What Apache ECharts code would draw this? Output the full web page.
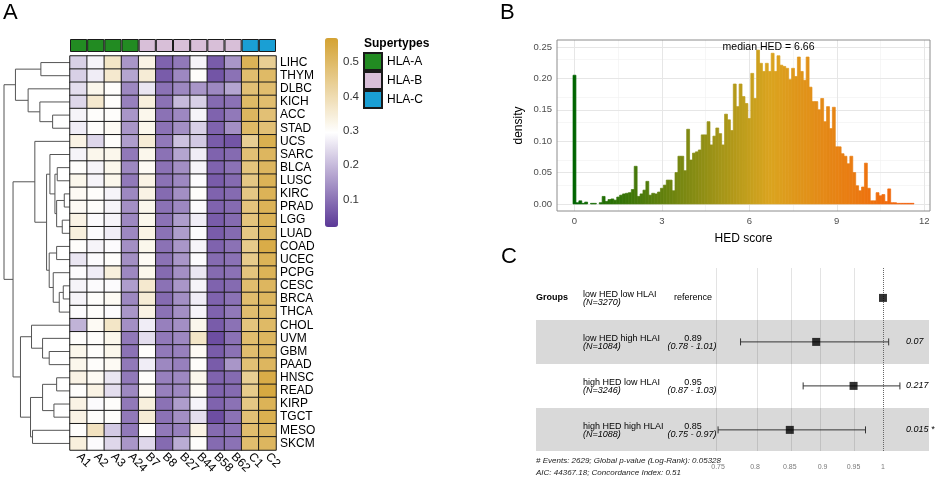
<!DOCTYPE html>
<html>
<head>
<meta charset="utf-8">
<script src="https://cdn.jsdelivr.net/npm/echarts@6/dist/echarts.min.js"></script>
<style>
html,body{margin:0;padding:0;background:#fff;}
#c{width:939px;height:479px;}
</style>
</head>
<body>
<div id="c"></div>
<script>
// ---------------- DATA ----------------
const cancers = ['LIHC','THYM','DLBC','KICH','ACC','STAD','UCS','SARC','BLCA','LUSC','KIRC','PRAD','LGG','LUAD','COAD','UCEC','PCPG','CESC','BRCA','THCA','CHOL','UVM','GBM','PAAD','HNSC','READ','KIRP','TGCT','MESO','SKCM'];
const alleles = ['A1','A2','A3','A24','B7','B8','B27','B44','B58','B62','C1','C2'];
const alleleSupertype = ['HLA-A','HLA-A','HLA-A','HLA-A','HLA-B','HLA-B','HLA-B','HLA-B','HLA-B','HLA-B','HLA-C','HLA-C'];
const supertypes = ['HLA-A','HLA-B','HLA-C'];
const colorbarTicks = [0.1,0.2,0.3,0.4,0.5];

// heatmap values per allele (rows in cancer order)
const valA1  = [0.23,0.23,0.25,0.24,0.28,0.27,0.33,0.28,0.30,0.32,0.31,0.31,0.33,0.34,0.30,0.26,0.29,0.28,0.28,0.29,0.19,0.30,0.32,0.32,0.33,0.30,0.33,0.33,0.30,0.34];
const valA2  = [0.28,0.27,0.32,0.36,0.30,0.30,0.24,0.32,0.28,0.28,0.30,0.30,0.29,0.29,0.28,0.29,0.27,0.29,0.30,0.30,0.31,0.30,0.30,0.30,0.31,0.33,0.29,0.30,0.38,0.29];
const valA3  = [0.37,0.36,0.30,0.30,0.30,0.31,0.30,0.32,0.32,0.32,0.28,0.28,0.28,0.27,0.29,0.30,0.34,0.29,0.31,0.29,0.37,0.32,0.32,0.31,0.26,0.25,0.30,0.30,0.22,0.24];
const valA24 = [0.15,0.17,0.13,0.12,0.15,0.15,0.16,0.11,0.13,0.11,0.13,0.14,0.13,0.13,0.14,0.14,0.13,0.16,0.13,0.15,0.14,0.11,0.10,0.11,0.11,0.13,0.11,0.11,0.11,0.15];
const valB7  = [0.33,0.35,0.26,0.34,0.32,0.32,0.35,0.32,0.31,0.33,0.33,0.32,0.32,0.33,0.32,0.31,0.32,0.36,0.35,0.33,0.27,0.25,0.30,0.27,0.30,0.31,0.34,0.35,0.30,0.24];
const valB8  = [0.08,0.07,0.10,0.10,0.10,0.10,0.11,0.10,0.10,0.10,0.09,0.10,0.10,0.10,0.10,0.10,0.09,0.10,0.09,0.10,0.12,0.11,0.11,0.13,0.12,0.12,0.10,0.10,0.11,0.09];
const valB27 = [0.11,0.13,0.13,0.20,0.13,0.14,0.21,0.17,0.14,0.13,0.14,0.13,0.16,0.16,0.15,0.15,0.14,0.15,0.14,0.14,0.14,0.13,0.12,0.12,0.13,0.13,0.16,0.14,0.12,0.18];
const valB44 = [0.28,0.30,0.15,0.23,0.28,0.23,0.22,0.27,0.28,0.29,0.30,0.29,0.27,0.29,0.28,0.29,0.26,0.28,0.27,0.28,0.32,0.37,0.31,0.30,0.32,0.31,0.28,0.25,0.33,0.30];
const valB58 = [0.07,0.06,0.13,0.09,0.08,0.08,0.07,0.08,0.08,0.07,0.08,0.08,0.07,0.07,0.08,0.09,0.09,0.08,0.08,0.08,0.07,0.05,0.07,0.07,0.08,0.08,0.08,0.05,0.09,0.09];
const valB62 = [0.15,0.10,0.17,0.10,0.11,0.14,0.06,0.09,0.10,0.09,0.09,0.09,0.09,0.09,0.10,0.10,0.10,0.09,0.10,0.11,0.10,0.10,0.10,0.15,0.09,0.09,0.10,0.10,0.10,0.10];
const valC1  = [0.52,0.49,0.48,0.50,0.51,0.50,0.44,0.48,0.47,0.46,0.46,0.47,0.47,0.46,0.45,0.45,0.47,0.49,0.49,0.49,0.47,0.49,0.49,0.48,0.44,0.45,0.46,0.48,0.49,0.49];
const valC2  = [0.44,0.50,0.49,0.49,0.48,0.48,0.53,0.51,0.51,0.52,0.52,0.52,0.52,0.51,0.54,0.52,0.52,0.51,0.51,0.50,0.50,0.51,0.51,0.51,0.54,0.55,0.52,0.53,0.51,0.51];
const alleleColumns = [valA1,valA2,valA3,valA24,valB7,valB8,valB27,valB44,valB58,valB62,valC1,valC2];

// dendrogram merges: [child, child, height]; numbers refer to earlier merges
const dendroMerges = [
  ['LIHC','THYM',29.0],  //0
  ['ACC','STAD',17.3],   //1
  ['KICH',1,30.0],       //2
  ['DLBC',2,41.7],       //3
  [0,3,54.3],            //4
  ['BLCA','LUSC',12.7],  //5
  ['KIRC','PRAD',5.7],   //6
  ['LGG','LUAD',7.7],    //7
  [6,7,13.3],            //8
  [5,8,15.0],            //9
  ['SARC',9,20.0],       //10
  ['COAD','UCEC',13.3],  //11
  ['CESC','BRCA',6.7],   //12
  [12,'THCA',10.7],      //13
  ['PCPG',13,16.7],      //14
  [11,14,20.7],          //15
  [10,15,23.3],          //16
  ['UCS',16,35.0],       //17
  ['GBM','PAAD',20.7],   //18
  ['UVM',18,27.3],       //19
  ['CHOL',19,38.3],      //20
  ['HNSC','READ',13.3],  //21
  ['KIRP','TGCT',16.0],  //22
  [21,22,27.3],          //23
  ['MESO','SKCM',37.3],  //24
  [23,24,39.3],          //25
  [20,25,49.3],          //26
  [17,26,56.7],          //27
  [4,27,65.7]            //28
];

// HED score histogram (bin width 0.1, bins centred at 0, 0.1, 0.2 ...)
const hedBinWidth = 0.1;
const hedDensity = [
  0.205,0.002,0.005,0.001,0.003,0.000,0.001,0.001,0.000,0.002,
  0.012,0.004,0.007,0.008,0.006,0.011,0.014,0.016,0.017,0.018,
  0.023,0.060,0.012,0.016,0.022,0.036,0.014,0.017,0.016,0.019,
  0.025,0.030,0.038,0.038,0.021,0.050,0.076,0.076,0.053,0.119,
  0.070,0.081,0.083,0.086,0.110,0.110,0.131,0.094,0.108,0.121,
  0.112,0.094,0.143,0.134,0.117,0.191,0.155,0.191,0.171,0.160,
  0.136,0.208,0.168,0.245,0.224,0.211,0.224,0.211,0.240,0.211,
  0.236,0.221,0.219,0.216,0.198,0.216,0.203,0.234,0.211,0.197,
  0.234,0.186,0.163,0.163,0.150,0.168,0.131,0.155,0.120,0.154,
  0.091,0.091,0.080,0.076,0.064,0.076,0.050,0.029,0.021,0.027,
  0.065,0.025,0.005,0.005,0.018,0.013,0.015,0.004,0.024,0.002,
  0.002,0.001,0.001,0.001,0.001,0.001,0.001
];
const hedXTicks = [0,3,6,9,12];
const hedXMinor = [1.5,4.5,7.5,10.5];
const hedYTicks = [0,0.05,0.10,0.15,0.20,0.25];
const hedYMinor = [0.025,0.075,0.125,0.175,0.225];
const hedMedian = 6.66;

// forest plot
const groupNames = ['low HED low HLAI','low HED high HLAI','high HED low HLAI','high HED high HLAI'];
const groupN = [3270,1084,3246,1088];
const hrEst = [1,0.89,0.95,0.85];
const hrLow = [null,0.78,0.87,0.75];
const hrHigh = [null,1.01,1.03,0.97];
const pValues = [null,'0.07','0.217','0.015 *'];
const forestTicks = [0.75,0.8,0.85,0.9,0.95,1];
const footerLines = ['# Events: 2629; Global p-value (Log-Rank): 0.05328','AIC: 44367.18; Concordance Index: 0.51'];

// ---------------- BUILD ----------------
const FONT = 'Liberation Sans, Arial, Helvetica, sans-serif';

const heatData = [];
alleleColumns.forEach((col, ci) => col.forEach((v, ri) => heatData.push([ci, ri, v])));

const dendroSegs = [];
(function(){
  const info = [];
  const node = n => typeof n === 'string' ? {y: cancers.indexOf(n), h: 0} : info[n];
  dendroMerges.forEach((m, i) => {
    const a = node(m[0]), b = node(m[1]), h = m[2];
    dendroSegs.push([a.h, a.y, h, b.y, b.h]);
    info[i] = {y: (a.y + b.y) / 2, h: h};
  });
})();

const hedData = hedDensity.map((d, i) => [i * hedBinWidth, d]);

const FY_MIN = 0.32, FY_MAX = 4.48;
const lnTicks = forestTicks.map(t => Math.log(t));
const forestBars = [];
hrEst.forEach((h, i) => { if (hrLow[i] != null) forestBars.push([Math.log(hrLow[i]), Math.log(hrHigh[i]), i + 1]); });
const forestPts = hrEst.map((h, i) => [Math.log(h), i + 1]);
const bands = [];
groupNames.forEach((g, i) => { if (i % 2 === 1) bands.push([{yAxis: i + 0.5}, {yAxis: Math.min(i + 1.5, FY_MAX)}]); });

const supertypeColors = {'HLA-A':'#228B22','HLA-B':'#D8BFD8','HLA-C':'#1A9FD4'};
const annotSeries = supertypes.map(st => ({
  type:'bar', name: st, xAxisIndex:1, yAxisIndex:1,
  data: alleleSupertype.map(s => s === st ? 1 : '-'),
  barWidth:'100%', barGap:'-100%', barCategoryGap:0,
  itemStyle:{color: supertypeColors[st], borderColor:'#1a1a1a', borderWidth:1},
  silent:true
}));

const hiddenAxis = (type, grid, extra) => Object.assign({type, gridIndex:grid, show:false}, extra || {});

const option = {
  animation:false,
  textStyle:{fontFamily:FONT},
  grid:[
    {left:4, top:56, width:66, height:394},            // 0 dendrogram
    {left:70, top:39, width:206, height:13},           // 1 annotation
    {left:70, top:56, width:206, height:394},          // 2 heatmap
    {left:325, top:38, width:13, height:189},          // 3 colorbar labels
    {left:557, top:40, width:373, height:171, show:true, borderColor:'#8c8c8c', borderWidth:1, backgroundColor:'transparent', z:20}, // 4 histogram
    {left:536, top:268, width:393, height:183}         // 5 forest
  ],
  xAxis:[
    hiddenAxis('value',0,{min:0, max:65.7, inverse:true}),
    hiddenAxis('category',1,{data:alleles}),
    {type:'category', gridIndex:2, data:alleles, axisLine:{show:false}, axisTick:{show:false},
     axisLabel:{interval:0, rotate:-45, fontSize:12, color:'#000', margin:5}},
    hiddenAxis('value',3,{min:0, max:1}),
    {type:'value', gridIndex:4, min:-0.6, max:12.2, axisLine:{show:false},
     axisTick:{show:true, customValues:hedXTicks, length:3, lineStyle:{color:'#333'}},
     axisLabel:{customValues:hedXTicks, fontSize:9.5, color:'#4d4d4d', margin:5},
     splitLine:{show:false},
     name:'HED score', nameLocation:'middle', nameGap:22, nameTextStyle:{fontSize:12, color:'#000'}},
    {type:'value', gridIndex:5, min:-0.6053, max:0.0803, axisLine:{show:false}, axisTick:{show:false},
     axisLabel:{customValues:lnTicks, fontSize:7, color:'#7a7a7a', margin:13,
       formatter: v => String(+Math.exp(v).toFixed(2))},
     splitLine:{show:false}}
  ],
  yAxis:[
    hiddenAxis('value',0,{min:-0.5, max:29.5, inverse:true}),
    hiddenAxis('value',1,{min:0, max:1}),
    {type:'category', gridIndex:2, data:cancers, inverse:true, position:'right',
     axisLine:{show:false}, axisTick:{show:false},
     axisLabel:{interval:0, fontSize:12, color:'#000', margin:4}},
    {type:'value', gridIndex:3, min:0.02, max:0.57, position:'right',
     axisLine:{show:false}, axisTick:{show:false}, splitLine:{show:false},
     axisLabel:{customValues:colorbarTicks, fontSize:11.5, color:'#333', margin:5, formatter: v => v.toFixed(1)}},
    {type:'value', gridIndex:4, min:-0.0112, max:0.2611, axisLine:{show:false},
     axisTick:{show:true, customValues:hedYTicks, length:3, lineStyle:{color:'#333'}},
     axisLabel:{customValues:hedYTicks, fontSize:9.5, color:'#4d4d4d', margin:5, formatter: v => v.toFixed(2)},
     splitLine:{show:false},
     name:'density', nameLocation:'middle', nameGap:32, nameRotate:90, nameTextStyle:{fontSize:12, color:'#000'}},
    hiddenAxis('value',5,{min:FY_MIN, max:FY_MAX, inverse:true})
  ],
  visualMap:[
    {type:'continuous', seriesIndex:4, min:0.02, max:0.57, left:325, top:38, itemWidth:13, itemHeight:189,
     padding:0, calculable:false, hoverLink:false, text:null, showLabel:false,
     inRange:{color:['#5B3897','#FFFFFF','#D4A232']}},
    {type:'continuous', seriesIndex:6, dimension:0, min:0, max:2*hedMedian, show:false,
     inRange:{color:['#006400','#DAA520','#FF4500']}}
  ],
  legend:{data:supertypes, orient:'vertical', left:363, top:52, padding:0, itemGap:0,
    itemWidth:18, itemHeight:17, icon:'rect', selectedMode:false,
    textStyle:{fontSize:12, color:'#000', fontFamily:FONT}},
  series:[
    { // 0 dendrogram
      type:'custom', xAxisIndex:0, yAxisIndex:0, data:dendroSegs, silent:true,
      encode:{x:[0,2,4], y:[1,3]},
      renderItem:(p, api) => {
        const pts = [[api.value(0),api.value(1)],[api.value(2),api.value(1)],[api.value(2),api.value(3)],[api.value(4),api.value(3)]].map(c => api.coord(c));
        return {type:'polyline', shape:{points:pts}, style:{stroke:'#555', lineWidth:1, fill:null}};
      }
    },
    ...annotSeries, // 1-3
    { // 4 heatmap
      type:'heatmap', xAxisIndex:2, yAxisIndex:2, data:heatData, silent:true,
      itemStyle:{borderColor:'#1a1a1a', borderWidth:1}
    },
    { // 5 histogram grid lines
      type:'line', xAxisIndex:4, yAxisIndex:4, data:[], z:1, silent:true,
      markLine:{silent:true, z:1, symbol:['none','none'], label:{show:false},
        data:[
          ...hedXMinor.map(v => ({xAxis:v, lineStyle:{color:'#F2F2F2', width:0.7, type:'solid'}})),
          ...hedYMinor.map(v => ({yAxis:v, lineStyle:{color:'#F2F2F2', width:0.7, type:'solid'}})),
          ...hedXTicks.map(v => ({xAxis:v, lineStyle:{color:'#E6E6E6', width:1, type:'solid'}})),
          ...hedYTicks.map(v => ({yAxis:v, lineStyle:{color:'#E6E6E6', width:1, type:'solid'}}))
        ]}
    },
    { // 6 histogram bars
      type:'custom', xAxisIndex:4, yAxisIndex:4, data:hedData, z:10, silent:true,
      encode:{x:0, y:1},
      renderItem:(p, api) => {
        const x = api.value(0), y = api.value(1);
        const a = api.coord([x - hedBinWidth/2, y]);
        const b = api.coord([x + hedBinWidth/2, 0]);
        const col = api.visual('color');
        return {type:'rect', shape:{x:a[0], y:a[1], width:b[0]-a[0], height:b[1]-a[1]},
          style:{fill:col, stroke: y > 0 ? col : null, lineWidth:0.7}};
      }
    },
    { // 7 forest grid lines
      type:'line', xAxisIndex:5, yAxisIndex:5, data:[], z:1, silent:true,
      markLine:{silent:true, z:1, symbol:['none','none'], label:{show:false},
        data: lnTicks.filter((v, i) => forestTicks[i] !== 1).map(v => ({xAxis:v, lineStyle:{color:'#E3E3E3', width:1, type:'solid'}}))}
    },
    { // 8 bands
      type:'line', xAxisIndex:5, yAxisIndex:5, data:[], z:2, silent:true,
      markArea:{silent:true, z:2, itemStyle:{color:'rgba(0,0,0,0.15)'}, data:bands}
    },
    { // 9 reference line at HR = 1
      type:'line', xAxisIndex:5, yAxisIndex:5, data:[], z:3, silent:true,
      markLine:{silent:true, z:3, symbol:['none','none'], label:{show:false},
        data: lnTicks.filter((v, i) => forestTicks[i] === 1).map(v => ({xAxis:v, lineStyle:{color:'#666', width:1, type:'dotted'}}))}
    },
    { // 10 error bars
      type:'custom', xAxisIndex:5, yAxisIndex:5, data:forestBars, z:10, silent:true,
      encode:{x:[0,1], y:2},
      renderItem:(p, api) => {
        const a = api.coord([api.value(0), api.value(2)]);
        const b = api.coord([api.value(1), api.value(2)]);
        const c = 3.5, st = {stroke:'#333', lineWidth:1};
        return {type:'group', children:[
          {type:'line', shape:{x1:a[0], y1:a[1], x2:b[0], y2:b[1]}, style:st},
          {type:'line', shape:{x1:a[0], y1:a[1]-c, x2:a[0], y2:a[1]+c}, style:st},
          {type:'line', shape:{x1:b[0], y1:b[1]-c, x2:b[0], y2:b[1]+c}, style:st}
        ]};
      }
    },
    { // 11 points
      type:'scatter', xAxisIndex:5, yAxisIndex:5, data:forestPts, z:12, silent:true,
      symbol:'rect', symbolSize:8, itemStyle:{color:'#000'}
    }
  ]
};

const chart = echarts.init(document.getElementById('c'));
chart.setOption(option);

// ---------------- TEXT ----------------
function txt(x, y, text, o) {
  o = o || {};
  const font = (o.style || 'normal') + ' ' + (o.weight || 'normal') + ' ' + (o.size || 9) + 'px ' + FONT;
  return {type:'text', x:x, y:y, silent:true, z:30,
    style:{text:text, font:font, fill:o.color || '#000',
      align:o.align || 'left', textAlign:o.align || 'left',
      verticalAlign:'middle', textVerticalAlign:'middle'}};
}
const gfx = [];
gfx.push(txt(3, 13, 'A', {size:22}));
gfx.push(txt(500, 13, 'B', {size:22}));
gfx.push(txt(501, 257, 'C', {size:22}));
gfx.push(txt(364, 44, 'Supertypes', {size:12, weight:'bold'}));
const medPix = chart.convertToPixel({gridIndex:4}, [hedMedian, 0.245]);
gfx.push(txt(medPix[0], 47, 'median HED = ' + hedMedian.toFixed(2), {size:10.5, align:'center'}));

const rowY = r => chart.convertToPixel({gridIndex:5}, [0, r])[1];
const colName = 583, colHR = 693, colP = 906;
gfx.push(txt(536, rowY(1), 'Groups', {size:9, weight:'bold'}));
groupNames.forEach((g, i) => {
  const y = rowY(i + 1);
  gfx.push(txt(colName, y - 3.5, g, {size:9}));
  gfx.push(txt(colName, y + 4.5, '(N=' + groupN[i] + ')', {size:9, style:'italic'}));
  if (hrLow[i] == null) {
    gfx.push(txt(colHR, y, 'reference', {size:9, align:'center'}));
  } else {
    gfx.push(txt(colHR, y - 3.5, hrEst[i].toFixed(2), {size:9, align:'center'}));
    gfx.push(txt(colHR - 1, y + 4.5, '(' + hrLow[i].toFixed(2) + ' - ' + hrHigh[i].toFixed(2) + ')', {size:9, align:'center', style:'italic'}));
    gfx.push(txt(colP, y, pValues[i], {size:9, style:'italic'}));
  }
});
gfx.push(txt(536, 461, footerLines[0], {size:8, style:'italic', color:'#222'}));
gfx.push(txt(536, 473, footerLines[1], {size:8, style:'italic', color:'#222'}));
chart.setOption({graphic:gfx});
</script>
</body>
</html>
